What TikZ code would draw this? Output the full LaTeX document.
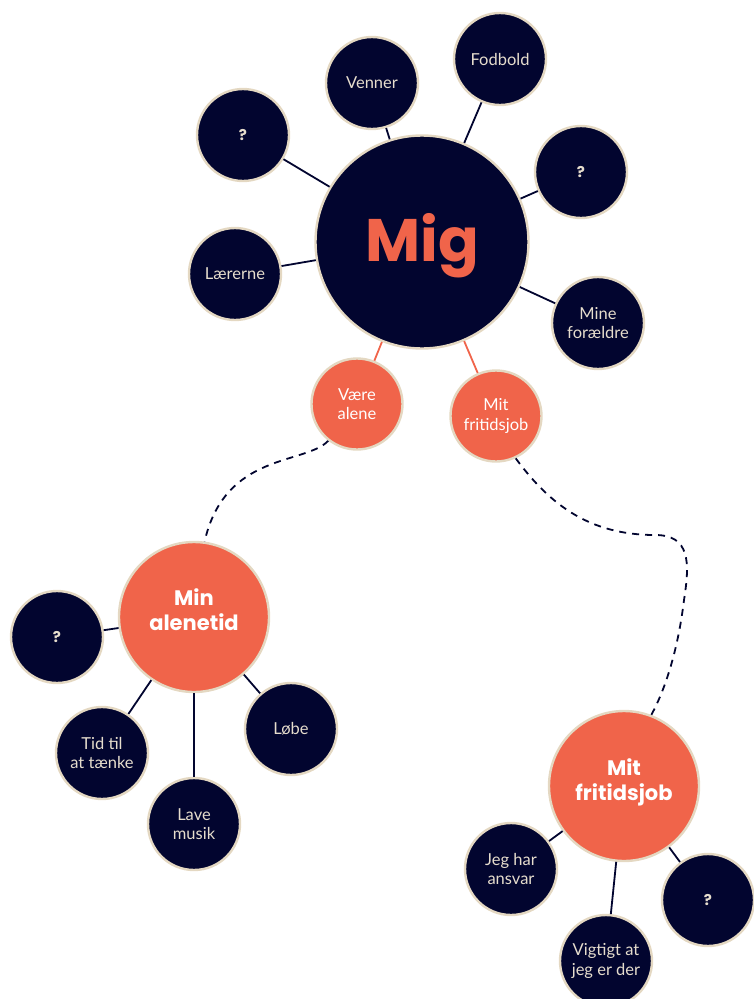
\documentclass[tikz,border=0pt]{standalone}
\usepackage{fontspec}
\newfontfamily\labelfont{Lato}
\newfontfamily\titlefont{Poppins}
\definecolor{navy}{HTML}{02052F}
\definecolor{coral}{HTML}{F0644A}
\definecolor{beige}{HTML}{E4D8C2}
\definecolor{labeltext}{HTML}{E6DDCD}
\newcommand\raisedpair[3]{\raisebox{#1}[\height][\depth]{\begin{tabular}{@{}c@{}}#2\\#3\end{tabular}}}
\tikzset{
  bubble/.style={circle, draw=beige, line width=2.4pt, inner sep=0pt, align=center},
  darkbub/.style={bubble, fill=navy, text=labeltext, minimum size=92pt,
    font=\labelfont\fontsize{16.5}{19.5}\selectfont},
  qbub/.style={darkbub, font=\titlefont\bfseries\fontsize{15}{18}\selectfont},
  smallorange/.style={bubble, fill=coral, text=white, minimum size=91pt,
    font=\labelfont\fontsize{16.5}{19.5}\selectfont},
  bigorange/.style={bubble, fill=coral, text=white, minimum size=150pt,
    font=\titlefont\bfseries\fontsize{21}{25}\selectfont},
  centerbub/.style={bubble, fill=navy, text=coral, minimum size=213pt,
    font=\titlefont\bfseries\fontsize{60}{60}\selectfont},
  link/.style={draw=navy, line width=1.8pt},
  orangelink/.style={draw=coral, line width=1.8pt},
  dashlink/.style={draw=navy, line width=1.8pt, dash pattern=on 7pt off 6pt},
}
\begin{document}
\begin{tikzpicture}[x=1pt, y=-1pt]
\useasboundingbox (0,0) rectangle (754,999);
% nodes
\node[centerbub] (mig) at (422,242) {\raisebox{-4pt}[\height][\depth]{Mig}};
\node[qbub] (q1) at (243,135) {?};
\node[darkbub] (venner) at (372,83) {Venner};
\node[darkbub] (fodbold) at (500,59) {Fodbold};
\node[qbub] (q2) at (581,172) {?};
\node[darkbub] (laererne) at (235,274) {Lærerne};
\node[darkbub] (foraeldre) at (598,323) {Mine\\forældre};
\node[smallorange] (vaere) at (357,404) {Være\\alene};
\node[smallorange] (fritsmall) at (496,416) {Mit\\fritidsjob};
\node[bigorange] (alenetid) at (194,617) {\raisedpair{4pt}{Min}{alenetid}};
\node[qbub] (q3) at (57,637) {?};
\node[darkbub] (tid) at (102,753) {Tid til\\at tænke};
\node[darkbub] (musik) at (194,824) {Lave\\musik};
\node[darkbub] (loebe) at (291,729) {Løbe};
\node[bigorange] (fritbig) at (624,786) {\raisedpair{3pt}{Mit}{fritidsjob}};
\node[darkbub] (ansvar) at (511,869) {Jeg har\\ansvar};
\node[darkbub] (vigtigt) at (606,961) {Vigtigt at\\jeg er der};
\node[qbub] (q4) at (708,900) {?};
% connectors
\draw[link] (mig) -- (q1);
\draw[link] (mig) -- (venner);
\draw[link] (mig) -- (fodbold);
\draw[link] (mig) -- (q2);
\draw[link] (mig) -- (laererne);
\draw[link] (mig) -- (foraeldre);
\draw[orangelink] (mig) -- (vaere);
\draw[orangelink] (mig) -- (fritsmall);
\draw[link] (alenetid) -- (q3);
\draw[link] (alenetid) -- (tid);
\draw[link] (alenetid) -- (musik);
\draw[link] (alenetid) -- (loebe);
\draw[link] (fritbig) -- (ansvar);
\draw[link] (fritbig) -- (vigtigt);
\draw[link] (fritbig) -- (q4);
% dashed curves
\draw[dashlink] (vaere.232) .. controls (305,465) and (225,452) .. (alenetid.82);
\draw[dashlink] (fritsmall.295) .. controls (550,505) and (590,535) .. (655,535)
  .. controls (690,535) and (690,562) .. (684,600)
  .. controls (678,650) and (665,690) .. (fritbig.69);
\end{tikzpicture}
\end{document}
